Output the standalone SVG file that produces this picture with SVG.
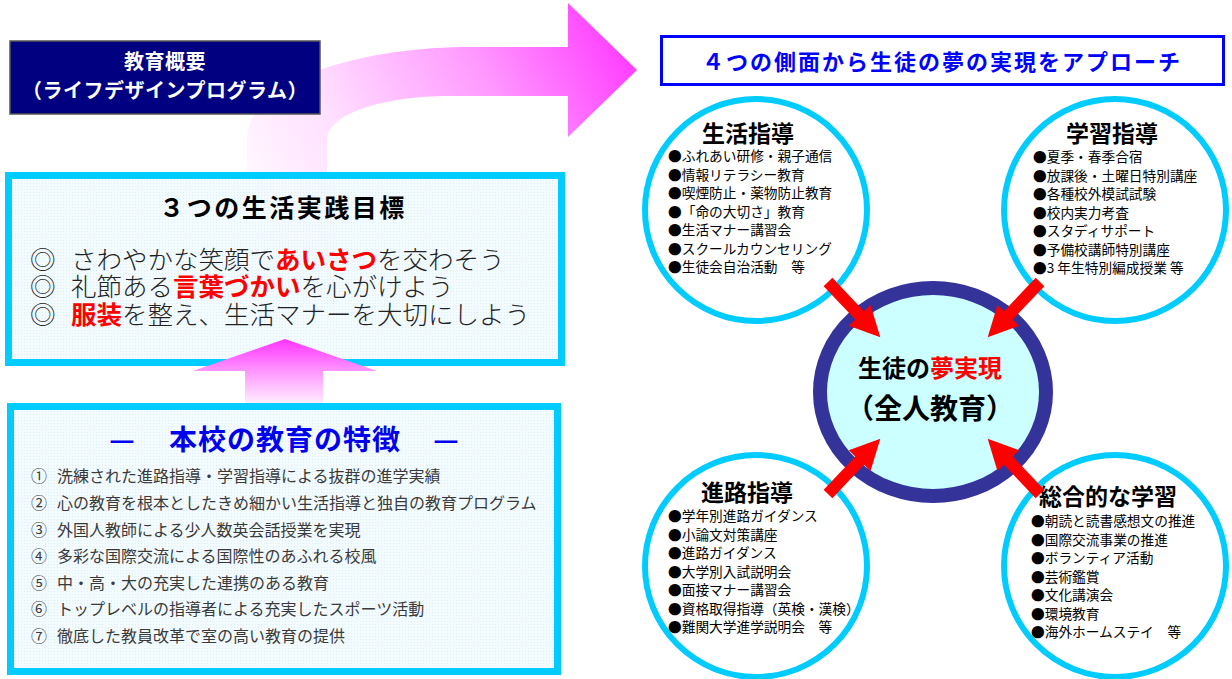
<svg xmlns="http://www.w3.org/2000/svg" xmlns:xlink="http://www.w3.org/1999/xlink" width="1232" height="679" viewBox="0 0 1232 679">
<defs>
<style>
text { font-family: "Noto Sans CJK JP", "Noto Sans CJK SC", sans-serif; }
.wb { fill: #FFFFFF; font-weight: bold; font-size: 20px; letter-spacing: 0.5px; }
.goal { font-size: 25.5px; fill: #222222; font-weight: 300; }
.red { fill: #FF0000; font-weight: bold; }
.feat { font-size: 16px; fill: #3A3A3A; font-weight: 400; }
.ctitle { font-size: 23px; font-weight: bold; fill: #000000; text-anchor: middle; }
.item { font-size: 13.7px; fill: #000000; }
.ring { fill: #FFFFFF; stroke: #00CCFF; stroke-width: 6; }
.box { fill: url(#dots); fill-opacity: 0.88; stroke: #00CCFF; stroke-width: 7; }
</style>
<linearGradient id="gArrow" gradientUnits="userSpaceOnUse" x1="250" y1="250" x2="640" y2="40">
<stop offset="0" stop-color="#FFFFFF"/>
<stop offset="0.3" stop-color="#FFE0FF"/>
<stop offset="0.65" stop-color="#FF99FF"/>
<stop offset="1" stop-color="#FF33FF"/>
</linearGradient>
<linearGradient id="gUp" gradientUnits="userSpaceOnUse" x1="0" y1="339" x2="0" y2="405">
<stop offset="0" stop-color="#FF33FF"/>
<stop offset="0.5" stop-color="#FF99FF"/>
<stop offset="1" stop-color="#FFF2FF"/>
</linearGradient>
<pattern id="dots" width="3" height="3" patternUnits="userSpaceOnUse">
<rect width="3" height="3" fill="#F2FBFF"/>
<rect width="1" height="1" fill="#D4EFFA"/>
</pattern>
<polygon id="redArrow" points="0,-6 46,-6 46,-15 76,0 46,15 46,6 0,6" fill="#FF0000"/>
</defs>

<g id="big-arrow">
<path d="M247,250 L247,140 C247,80 360,47 470,47 L568,47 L568,3 L637,70 L568,137 L568,96 L450,96 C380,96 327,115 327,140 L327,250 Z" fill="url(#gArrow)"/>
</g>

<g id="overview">
<rect x="10" y="41" width="310" height="73" fill="#000080" stroke="#555555" stroke-width="1.5"/>
<text class="wb" x="165" y="69" text-anchor="middle">教育概要</text>
<text class="wb" x="165" y="98" text-anchor="middle">（ライフデザインプログラム）</text>
</g>

<g id="goals">
<rect class="box" x="8.5" y="175.5" width="553" height="187"/>
<text x="283" y="217" text-anchor="middle" font-size="25" font-weight="bold" letter-spacing="2.5" fill="#000000">３つの生活実践目標</text>
<text class="goal" x="30" y="269"><tspan>◎</tspan><tspan x="71">さわやかな笑顔で</tspan><tspan class="red">あいさつ</tspan><tspan>を交わそう</tspan></text>
<text class="goal" x="30" y="296"><tspan>◎</tspan><tspan x="71">礼節ある</tspan><tspan class="red">言葉づかい</tspan><tspan>を心がけよう</tspan></text>
<text class="goal" x="30" y="324"><tspan>◎</tspan><tspan x="71" class="red">服装</tspan><tspan>を整え、生活マナーを大切にしよう</tspan></text>
</g>

<g id="up-arrow">
<path d="M285,339 L377,371 L323,371 L323,405 L245,405 L245,371 L193,371 Z" fill="url(#gUp)"/>
</g>

<g id="features">
<rect class="box" x="10.5" y="406.5" width="547" height="265"/>
<text x="122" y="450" text-anchor="middle" font-size="28" font-weight="bold" fill="#0000EE">—</text>
<text x="285" y="450" text-anchor="middle" font-size="28" font-weight="bold" fill="#0000EE" letter-spacing="1">本校の教育の特徴</text>
<text x="446" y="450" text-anchor="middle" font-size="28" font-weight="bold" fill="#0000EE">—</text>
<text class="feat" x="31" y="482">①<tspan x="57">洗練された進路指導・学習指導による抜群の進学実績</tspan></text>
<text class="feat" x="31" y="509">②<tspan x="57">心の教育を根本としたきめ細かい生活指導と独自の教育プログラム</tspan></text>
<text class="feat" x="31" y="536">③<tspan x="57">外国人教師による少人数英会話授業を実現</tspan></text>
<text class="feat" x="31" y="562">④<tspan x="57">多彩な国際交流による国際性のあふれる校風</tspan></text>
<text class="feat" x="31" y="589">⑤<tspan x="57">中・高・大の充実した連携のある教育</tspan></text>
<text class="feat" x="31" y="615">⑥<tspan x="57">トップレベルの指導者による充実したスポーツ活動</tspan></text>
<text class="feat" x="31" y="642">⑦<tspan x="57">徹底した教員改革で室の高い教育の提供</tspan></text>
</g>

<g id="approach-title">
<rect x="661.5" y="36.5" width="562" height="48" fill="#FFFFFF" stroke="#0000FF" stroke-width="3"/>
<text x="942" y="70" text-anchor="middle" font-size="22" font-weight="bold" letter-spacing="2" fill="#0000FF">４つの側面から生徒の夢の実現をアプローチ</text>
</g>

<g id="center">
<ellipse cx="933" cy="392" rx="113" ry="104" fill="#CCFFFF" stroke="#333399" stroke-width="14"/>
<text x="930" y="377" text-anchor="middle" font-size="24" font-weight="bold" fill="#000000">生徒の<tspan fill="#FF0000">夢実現</tspan></text>
<text x="930" y="419" text-anchor="middle" font-size="28" font-weight="bold" fill="#000000">（全人教育）</text>
</g>

<g id="life-guidance">
<circle class="ring" cx="756" cy="210" r="111"/>
<text class="ctitle" x="748" y="142">生活指導</text>
<text class="item" x="668" y="161">●ふれあい研修・親子通信</text>
<text class="item" x="668" y="179.5">●情報リテラシー教育</text>
<text class="item" x="668" y="198">●喫煙防止・薬物防止教育</text>
<text class="item" x="668" y="216.5">●「命の大切さ」教育</text>
<text class="item" x="668" y="235">●生活マナー講習会</text>
<text class="item" x="668" y="253.5">●スクールカウンセリング</text>
<text class="item" x="668" y="272">●生徒会自治活動　等</text>
</g>

<g id="study-guidance">
<circle class="ring" cx="1115" cy="210" r="111"/>
<text class="ctitle" x="1112" y="142">学習指導</text>
<text class="item" x="1033" y="162">●夏季・春季合宿</text>
<text class="item" x="1033" y="180.5">●放課後・土曜日特別講座</text>
<text class="item" x="1033" y="199">●各種校外模試試験</text>
<text class="item" x="1033" y="217.5">●校内実力考査</text>
<text class="item" x="1033" y="236">●スタディサポート</text>
<text class="item" x="1033" y="254.5">●予備校講師特別講座</text>
<text class="item" x="1033" y="273">●3 年生特別編成授業 等</text>
</g>

<g id="career-guidance">
<circle class="ring" cx="756" cy="566" r="111"/>
<text class="ctitle" x="747" y="501">進路指導</text>
<text class="item" x="668" y="521">●学年別進路ガイダンス</text>
<text class="item" x="668" y="539.5">●小論文対策講座</text>
<text class="item" x="668" y="558">●進路ガイダンス</text>
<text class="item" x="668" y="576.5">●大学別入試説明会</text>
<text class="item" x="668" y="595">●面接マナー講習会</text>
<text class="item" x="668" y="613.5">●資格取得指導（英検・漢検）</text>
<text class="item" x="668" y="632">●難関大学進学説明会　等</text>
</g>

<g id="integrated-study">
<circle class="ring" cx="1115" cy="566" r="111"/>
<text class="ctitle" x="1108" y="505">総合的な学習</text>
<text class="item" x="1031" y="526">●朝読と読書感想文の推進</text>
<text class="item" x="1031" y="544.5">●国際交流事業の推進</text>
<text class="item" x="1031" y="563">●ボランティア活動</text>
<text class="item" x="1031" y="581.5">●芸術鑑賞</text>
<text class="item" x="1031" y="600">●文化講演会</text>
<text class="item" x="1031" y="618.5">●環境教育</text>
<text class="item" x="1031" y="637">●海外ホームステイ　等</text>
</g>

<g id="connectors">
<use xlink:href="#redArrow" transform="translate(828,282) rotate(46.5)"/>
<use xlink:href="#redArrow" transform="translate(1040,282) rotate(133.5)"/>
<use xlink:href="#redArrow" transform="translate(828,494) rotate(-46.5)"/>
<use xlink:href="#redArrow" transform="translate(1040,494) rotate(-133.5)"/>
</g>
</svg>
